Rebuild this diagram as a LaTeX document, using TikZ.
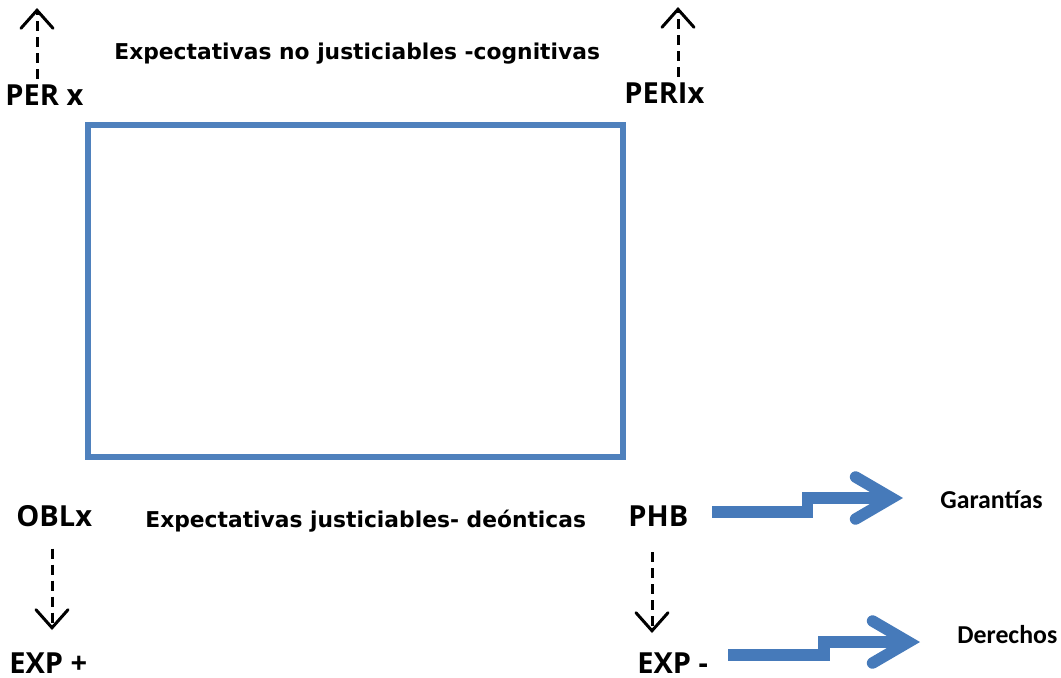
\documentclass[tikz,border=0pt]{standalone}
\usepackage{fontspec}
\setmainfont{Open Sans}
\newfontfamily\carlito{Carlito}
\newfontfamily\dejavu{DejaVu Sans}
\usetikzlibrary{arrows.meta}
\definecolor{boxblue}{RGB}{79,129,189}
\definecolor{arrowblue}{RGB}{70,122,186}

\begin{document}
\begin{tikzpicture}[x=0.5pt,y=-0.5pt,
    every node/.style={inner sep=0pt,anchor=base west},
    lbl/.style={font=\bfseries\fontsize{14.5}{16}\selectfont},
    caption/.style={font=\dejavu\bfseries\fontsize{10.9}{12}\selectfont},
    side/.style={font=\carlito\bfseries\fontsize{12.9}{15}\selectfont},
    dashedarrow/.style={line width=1.5pt,dash pattern=on 5pt off 3pt,
      -{Straight Barb[length=9pt,width=16pt,line cap=round]}},
    bigarrow/.style={arrowblue,line width=5.75pt,line join=miter,
      -{Straight Barb[length=18pt,width=21pt,line cap=round]}}]
  \useasboundingbox (0,0) rectangle (1061,677);

  % corner labels
  \node[lbl] (per)  at (5,105)   {PER x};
  \node[lbl] (peri) at (624,103) {PERIx};
  \node[lbl] (obl)  at (16,526)  {OBLx};
  \node[lbl] (phb)  at (628,526) {PHB};
  \node[lbl] (expp) at (9,673)   {EXP +};
  \node[lbl] (expm) at (637,673) {EXP -};

  % captions above and below the square
  \node[caption] (cog)  at (114,59)  {Expectativas no justiciables -cognitivas};
  \node[caption] (deon) at (145,527) {Expectativas justiciables- deónticas};

  % right hand side
  \node[side] (gar) at (940,508) {Garantías};
  \node[side] (der) at (957,643) {Derechos};

  % the square
  \draw[boxblue,line width=3pt] (88,125) rectangle (622.5,457);

  % dashed arrows: {end point}/{label}/{shorten at label}
  \coordinate (perup)  at (37,8);
  \coordinate (periup) at (678,7);
  \coordinate (obldn)  at (52,630);
  \coordinate (phbdn)  at (652,633);
  \foreach \tip/\from/\gap in {perup/per.north/2.5pt, periup/peri.north/2.5pt,
                               obldn/obl.south/11pt, phbdn/phb.south/13pt}{
    \draw[dashedarrow,shorten <=\gap] (\tip |- \from) -- (\tip);
  }

  % big stepped arrows
  \coordinate (gtail) at (712,512);
  \coordinate (gtip)  at (903,498);
  \coordinate (dtail) at (728,655);
  \coordinate (dtip)  at (920,642);
  \draw[bigarrow] (gtail) -- ++(95.5,0) |- (gtip);
  \draw[bigarrow] (dtail) -- ++(96,0) |- (dtip);
\end{tikzpicture}
\end{document}
